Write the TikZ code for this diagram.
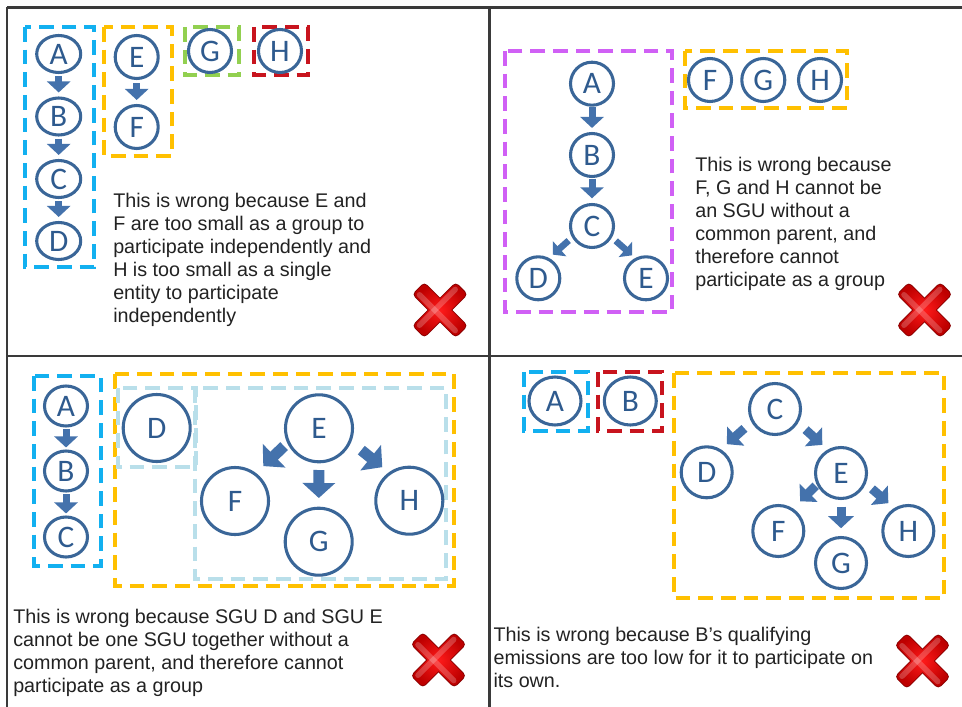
\documentclass[tikz,border=0pt]{standalone}
\usepackage{fontspec}
\setmainfont{Liberation Sans}
\newfontfamily\entfont{Carlito}
\usetikzlibrary{arrows.meta,shapes.geometric}
\definecolor{framegray}{HTML}{3A3A3A}
\definecolor{grpblue}{HTML}{12B0F0}
\definecolor{grporange}{HTML}{FFC000}
\definecolor{grpgreen}{HTML}{92D050}
\definecolor{grpred}{HTML}{C8141E}
\definecolor{grpmagenta}{HTML}{D060F5}
\definecolor{grplight}{HTML}{B9DFEA}
\definecolor{entblue}{HTML}{3A6698}
\definecolor{entletter}{HTML}{2E5A8E}
\definecolor{arrowblue}{HTML}{4472AC}
\definecolor{textgray}{HTML}{222222}
\definecolor{crossedge}{HTML}{8A0000}
\definecolor{crossbright}{HTML}{FF1A1A}
\definecolor{crossmid}{HTML}{BE0000}
\tikzset{
  frameline/.style={draw=framegray, line width=1.6pt},
  grpbox/.style={line width=3pt, dash pattern=on 11pt off 6pt},
  ent/.style={draw=entblue, line width=2.3pt, text=entletter,
    font={\entfont\fontsize{23.5pt}{23.5pt}\selectfont}, inner sep=0pt},
  entc/.style={ent, circle, minimum size=#1},
  ente/.style 2 args={ent, ellipse, minimum width=#1, minimum height=#2},
  arr/.style n args={3}{draw=arrowblue, line width=#1, line cap=butt,
    -{Triangle[width=#2,length=#3]}},
  arrS/.style={arr={5.25pt}{17.25pt}{8.25pt}},
  arrT/.style={arr={4.9pt}{15pt}{6.75pt}},
  arrL/.style={arr={8.25pt}{24pt}{11.25pt}},
  arrM/.style={arr={6.75pt}{18.75pt}{9pt}},
  expl/.style={anchor=north west, inner sep=0pt, align=left, text=textgray,
    font={\fontsize{14.8pt}{17.25pt}\selectfont}},
  redx/.pic={
    \foreach \ang in {45,135}{
      \draw[crossedge, line width=1.4pt, rounded corners=2.5pt, rotate=\ang] (-30,-7.8) rectangle (30,7.8);
    }
    \foreach \ang in {45,135}{
      \shade[rounded corners=2.5pt, rotate=\ang, inner color=crossbright, outer color=crossmid] (-30,-7.8) rectangle (30,7.8);
    }
    \foreach \ang in {45,135}{
      \fill[white, opacity=0.22, rounded corners=2pt, rotate=\ang] (-28,-6.5) rectangle (28,-1);
    }
  }
}
\begin{document}
\begin{tikzpicture}[x=0.75pt,y=-0.75pt]
\useasboundingbox (0,0) rectangle (962,706);
\fill[white] (0,0) rectangle (962,706);
\begin{scope}
\clip (0,0) rectangle (962,706);
\draw[frameline] (7,7.5) -- (970,7.5);
\draw[frameline] (7,7.5) -- (7,715);
\draw[frameline] (489.5,7.5) -- (489.5,715);
\draw[frameline] (7,356) -- (970,356);
\end{scope}

% ---------- Panel 1 ----------
\draw[grpbox, grpblue] (25,27) rectangle (94,267);
\draw[grpbox, grporange] (104,27) rectangle (172,156);
\draw[grpbox, grpgreen] (185,27) rectangle (239,75);
\draw[grpbox, grpred] (254,27) rectangle (308,75);
\node[ente={33pt}{27.75pt}] (p1a) at (58.7,54) {A};
\node[ente={33pt}{27.75pt}] (p1b) at (58.7,116.5) {B};
\node[ente={33pt}{27.75pt}] (p1c) at (58.7,179) {C};
\node[ente={33pt}{27.75pt}] (p1d) at (58.7,241) {D};
\node[entc={32.25pt}] (p1e) at (136.7,57) {E};
\node[entc={32.25pt}] (p1f) at (136.7,127) {F};
\node[entc={32.25pt}] (p1g) at (210,51) {G};
\node[entc={32.25pt}] (p1h) at (280,51) {H};
\draw[arrS, shorten <=1.5pt, shorten >=3pt] (p1a) -- (p1b);
\draw[arrS, shorten <=1.5pt, shorten >=3pt] (p1b) -- (p1c);
\draw[arrS, shorten <=1.5pt, shorten >=3pt] (p1c) -- (p1d);
\draw[arrS, shorten <=2.5pt, shorten >=3pt] (p1e) -- (p1f);
\node[expl] (p1t) at (113,193) {This is wrong because E and\\F are too small as a group to\\participate independently and\\H is too small as a single\\entity to participate\\independently};
\pic at (440,310) {redx};

% ---------- Panel 2 ----------
\draw[grpbox, grpmagenta] (505,51) rectangle (672,312);
\draw[grpbox, grporange] (685,51) rectangle (847,108);
\node[entc={32.25pt}] (p2a) at (592,83.7) {A};
\node[entc={32.25pt}] (p2b) at (592,155) {B};
\node[entc={32.25pt}] (p2c) at (592,226) {C};
\node[entc={32.25pt}] (p2d) at (538.3,278.3) {D};
\node[entc={32.25pt}] (p2e) at (646,278.3) {E};
\node[entc={32.25pt}] (p2f) at (710,80) {F};
\node[entc={32.25pt}] (p2g) at (763.3,80) {G};
\node[entc={32.25pt}] (p2h) at (820,80) {H};
\draw[arrS, shorten <=0.5pt, shorten >=3pt] (p2a) -- (p2b);
\draw[arrS, shorten <=0.5pt, shorten >=3.5pt] (p2b) -- (p2c);
\draw[arrT, shorten <=3.4pt, shorten >=3.75pt] (p2c.210) -- (p2d.62);
\draw[arrT, shorten <=3.75pt, shorten >=3pt] (p2c.330) -- (p2e.118);
\node[expl] (p2t) at (695,157) {This is wrong because\\F, G and H cannot be\\an SGU without a\\common parent, and\\therefore cannot\\participate as a group};
\pic at (924.5,310) {redx};

% ---------- Panel 3 ----------
\draw[grpbox, grpblue] (34,376) rectangle (101,566);
\draw[grpbox, grporange] (115,374) rectangle (454,586);
\draw[grpbox, grplight] (118,388) rectangle (196,467);
\draw[grpbox, grplight] (195,388) rectangle (446,579);
\node[ente={32.25pt}{30pt}] (p3a) at (66,406) {A};
\node[ente={32.25pt}{30pt}] (p3b) at (66,471) {B};
\node[ente={32.25pt}{30pt}] (p3c) at (66,537) {C};
\node[entc={50.25pt}] (p3d) at (156.7,428) {D};
\node[entc={50.25pt}] (p3e) at (319,428.3) {E};
\node[entc={50.25pt}] (p3f) at (235,501) {F};
\node[entc={50.25pt}] (p3g) at (318.7,541.7) {G};
\node[entc={50.25pt}] (p3h) at (409.3,500.7) {H};
\draw[arrS, shorten <=1pt, shorten >=1.5pt] (p3a) -- (p3b);
\draw[arrS, shorten <=1pt, shorten >=1.5pt] (p3b) -- (p3c);
\draw[arrL, shorten <=3.3pt, shorten >=7.5pt] (p3e.205) -- (p3f.53);
\draw[arrL, shorten <=5pt, shorten >=6.5pt] (p3e) -- (p3g);
\draw[arrL, shorten <=9.7pt, shorten >=6.2pt] (p3e.337) -- (p3h.126);
\node[expl] (p3t) at (13,609) {This is wrong because SGU D and SGU E\\cannot be one SGU together without a\\common parent, and therefore cannot\\participate as a group};
\pic at (438.5,660) {redx};

% ---------- Panel 4 ----------
\draw[grpbox, grpblue] (524,372) rectangle (588,431);
\draw[grpbox, grpred] (598,372) rectangle (662,431);
\draw[grpbox, grporange] (674,373) rectangle (944,598);
\node[ente={39pt}{36pt}] (p4a) at (555,401) {A};
\node[ente={39pt}{36pt}] (p4b) at (630.3,401) {B};
\node[entc={38.25pt}] (p4c) at (775,409) {C};
\node[entc={38.25pt}] (p4d) at (706.7,472.3) {D};
\node[entc={38.25pt}] (p4e) at (841,473) {E};
\node[entc={38.25pt}] (p4f) at (778.3,531) {F};
\node[entc={38.25pt}] (p4g) at (841,563) {G};
\node[entc={38.25pt}] (p4h) at (908.3,531) {H};
\draw[arrM, shorten <=7pt, shorten >=5.85pt] (p4c.209) -- (p4d.58);
\draw[arrM, shorten <=7.5pt, shorten >=5.25pt] (p4c.329) -- (p4e.120);
\draw[arrM, shorten <=1pt, shorten >=7.5pt] (p4e.206) -- (p4f.57);
\draw[arrM, shorten <=5pt, shorten >=5.8pt] (p4e) -- (p4g);
\draw[arrM, shorten <=6pt, shorten >=5.6pt] (p4e.337) -- (p4h.122);
\node[expl] (p4t) at (493.3,626.7) {This is wrong because B's qualifying\\emissions are too low for it to participate on\\its own.};
\pic at (922.5,661) {redx};
\end{tikzpicture}
\end{document}
